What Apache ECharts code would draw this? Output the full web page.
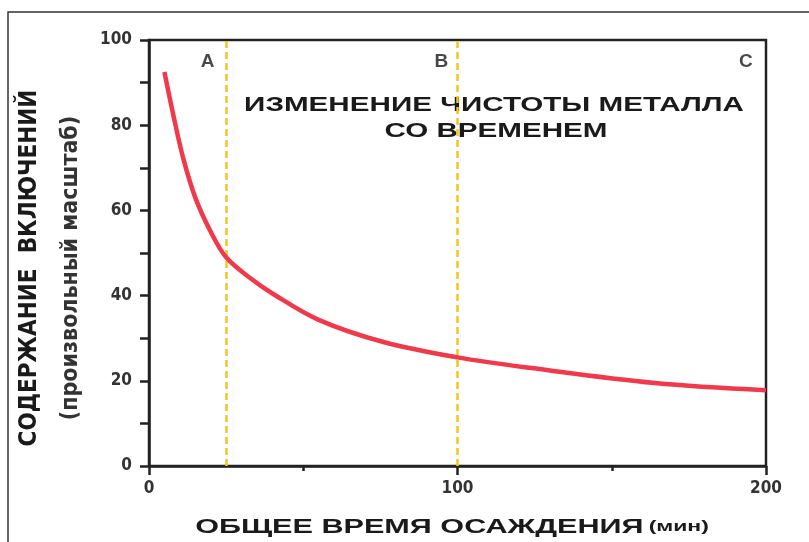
<!DOCTYPE html>
<html>
<head>
<meta charset="utf-8">
<script src="https://cdn.jsdelivr.net/npm/echarts@6/dist/echarts.min.js"></script>
<style>
  html, body { margin: 0; padding: 0; background: #fff; }
  #main { width: 809px; height: 542px; }
</style>
</head>
<body>
<div id="main"></div>
<script>
const chart = echarts.init(document.getElementById("main"));

// ********
// * Data *
// ********

// Deposition time (min) and inclusion content (arbitrary scale)
const times = [5, 8, 11, 15, 20, 25, 33, 40, 55, 76, 100, 124, 164, 200];
const inclusions = [92.5, 82, 72.5, 63, 55, 49, 44, 40.5, 34.3, 29.1, 25.5, 23, 19.5, 17.8];

// Time markers (dashed lines) and letters
const markerTimes = [25, 100];
const letterNames = ["A", "B", "C"];
const letterTimes = [19, 94.8, 193.5];
const letterLevel = 95;

const xTickLabels = [0, 100, 200];
const yTickLabels = [0, 20, 40, 60, 80, 100];

const FONT = "Liberation Sans, Arial, sans-serif";
const NARROW = "Liberation Sans Narrow, DejaVu Sans Condensed, Arial Narrow, sans-serif";

const curveData = times.map((t, i) => [t, inclusions[i]]);
const letterData = letterNames.map((n, i) => ({ value: [letterTimes[i], letterLevel], name: n }));

const option = {
  animation: false,
  backgroundColor: "#fff",
  grid: {
    left: 149,
    top: 40,
    right: 43,
    bottom: 76,
    show: true,
    borderColor: "#222",
    borderWidth: 2.5,
  },
  xAxis: {
    type: "value",
    min: 0,
    max: 200,
    interval: 100,
    axisLine: { show: true, lineStyle: { color: "#222", width: 2.5 } },
    axisTick: { show: true, inside: false, length: 9, lineStyle: { color: "#222", width: 2.5 } },
    minorTick: { show: true, splitNumber: 2, length: 5, lineStyle: { color: "#222", width: 2.5 } },
    splitLine: { show: false },
    axisLabel: {
      margin: 14,
      color: "#333",
      fontFamily: NARROW,
      fontWeight: "bold",
      fontSize: 17,
      formatter: (v) => (xTickLabels.includes(v) ? String(v) : ""),
    },
  },
  yAxis: {
    type: "value",
    min: 0,
    max: 100,
    interval: 10,
    axisLine: { show: true, lineStyle: { color: "#222", width: 2.5 } },
    axisTick: { show: true, inside: false, length: 9, lineStyle: { color: "#222", width: 2.5 } },
    splitLine: { show: false },
    axisLabel: {
      margin: 17,
      color: "#333",
      fontFamily: NARROW,
      fontWeight: "bold",
      fontSize: 17,
      formatter: (v) => (yTickLabels.includes(v) ? String(v) : ""),
    },
  },
  series: [
    {
      name: "Содержание включений",
      type: "line",
      data: curveData,
      smooth: 0.35,
      symbol: "none",
      lineStyle: { color: "#f0394a", width: 4.5 },
      z: 3,
      markLine: {
        silent: true,
        symbol: "none",
        label: { show: false },
        lineStyle: { color: "#f5c51c", width: 2.5, type: [7, 4] },
        data: markerTimes.map((t) => ({ xAxis: t })),
        z: 2,
      },
    },
    {
      name: "letters",
      type: "scatter",
      data: letterData,
      symbolSize: 0,
      label: {
        show: true,
        position: "inside",
        formatter: (p) => p.name,
        color: "#1a1a1a",
        fontFamily: FONT,
        fontWeight: "bold",
        fontSize: 19,
      },
    },
  ],
  graphic: [
    // outer frame
    {
      type: "rect",
      shape: { x: 8, y: 12, width: 830, height: 560 },
      style: { fill: "none", stroke: "#333", lineWidth: 1.5 },
      silent: true,
    },
    // annotation (stretched wide like the original)
    {
      type: "text",
      x: 494,
      y: 105,
      scaleX: 1.41,
      style: {
        text: "ИЗМЕНЕНИЕ ЧИСТОТЫ МЕТАЛЛА",
        font: "bold 21px " + FONT,
        fill: "#1a1a1a",
        textAlign: "center",
        textVerticalAlign: "middle",
      },
    },
    {
      type: "text",
      x: 496,
      y: 131,
      scaleX: 1.41,
      style: {
        text: "СО ВРЕМЕНЕМ",
        font: "bold 21px " + FONT,
        fill: "#1a1a1a",
        textAlign: "center",
        textVerticalAlign: "middle",
      },
    },
    // y axis title
    {
      type: "text",
      x: 30,
      y: 268,
      rotation: Math.PI / 2,
      style: {
        text: "СОДЕРЖАНИЕ  ВКЛЮЧЕНИЙ",
        font: "bold 24px " + NARROW,
        fill: "#1a1a1a",
        textAlign: "center",
        textVerticalAlign: "middle",
      },
    },
    {
      type: "text",
      x: 71,
      y: 268,
      rotation: Math.PI / 2,
      style: {
        text: "(произвольный масштаб)",
        font: "bold 23px " + NARROW,
        fill: "#333",
        textAlign: "center",
        textVerticalAlign: "middle",
      },
    },
    // x axis title
    {
      type: "text",
      x: 452,
      y: 527,
      scaleX: 1.53,
      style: {
        text: "{a|ОБЩЕЕ ВРЕМЯ ОСАЖДЕНИЯ} {b|(мин)}",
        fill: "#1a1a1a",
        textAlign: "center",
        textVerticalAlign: "middle",
        rich: {
          a: { font: "bold 20px " + FONT, fill: "#1a1a1a" },
          b: { font: "bold 15px " + FONT, fill: "#1a1a1a" },
        },
      },
    },
  ],
};

chart.setOption(option);
</script>
</body>
</html>
